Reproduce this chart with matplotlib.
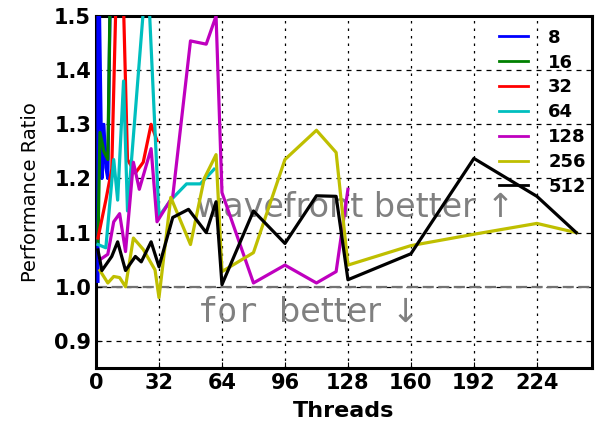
import matplotlib
matplotlib.use("Agg")
import matplotlib.pyplot as plt

# ===== data =====
sizes = ["8", "16", "32", "64", "128", "256", "512"]
colors = ["b", "g", "r", "c", "m", "y", "k"]

t_8 = [1, 1, 3, 4, 5, 6, 7, 8]
r_8 = [1.01, 1.70, 1.20, 1.30, 1.22, 1.20, 1.48, 1.70]

t_16 = [1, 2, 4, 6, 8, 10]
r_16 = [1.08, 1.285, 1.25, 1.235, 1.75, 1.60]

t_32 = [1, 5, 8, 12, 16, 20, 24, 28, 31]
r_32 = [1.09, 1.16, 1.217, 1.80, 1.235, 1.21, 1.23, 1.30, 1.27]

t_64 = [1, 5, 9, 11, 14, 16, 26, 32, 38, 46, 53, 60]
r_64 = [1.078, 1.072, 1.235, 1.16, 1.38, 1.14, 1.60, 1.13, 1.16, 1.19, 1.19, 1.217]

t_128 = [2, 6, 9, 12, 15, 19, 22, 28, 31, 39, 48, 56, 61, 64, 80, 96, 112, 122, 128]
r_128 = [1.05, 1.06, 1.12, 1.135, 1.065, 1.23, 1.18, 1.255, 1.12, 1.167,
         1.454, 1.448, 1.50, 1.174, 1.007, 1.04, 1.007, 1.028, 1.18]

t_256 = [2, 6, 9, 12, 15, 19, 24, 27, 30, 32, 38, 48, 55, 61, 64, 80, 96,
         112, 122, 128, 160, 192, 224, 244]
r_256 = [1.03, 1.007, 1.019, 1.017, 1.0, 1.09, 1.069, 1.05, 1.031, 0.98, 1.165,
         1.078, 1.20, 1.244, 1.028, 1.063, 1.235, 1.289, 1.248, 1.04, 1.076,
         1.097, 1.117, 1.10]

t_512 = [1, 3, 8, 11, 15, 20, 23, 28, 32, 39, 47, 56, 61, 64, 80, 96, 112,
         122, 128, 160, 192, 224, 244]
r_512 = [1.068, 1.03, 1.056, 1.083, 1.03, 1.056, 1.046, 1.083, 1.037, 1.128,
         1.143, 1.10, 1.157, 1.004, 1.14, 1.08, 1.168, 1.167, 1.013, 1.061,
         1.237, 1.167, 1.10]

xs = [t_8, t_16, t_32, t_64, t_128, t_256, t_512]
ys = [r_8, r_16, r_32, r_64, r_128, r_256, r_512]

x_ticks = [0, 32, 64, 96, 128, 160, 192, 224]
y_ticks = [0.9, 1.0, 1.1, 1.2, 1.3, 1.4, 1.5]

# ===== plot =====
fig = plt.figure(figsize=(6.04, 4.21), dpi=100)
ax = fig.add_axes([96 / 604, 1 - 368 / 421, (592 - 96) / 604, (368 - 16) / 421])

ax.axhline(1.0, color="0.45", lw=1.6, ls=(0, (5, 2)), zorder=1)

# annotations sit under the lines
ax.text(51, 1.146, "wavefront better \u2191", color="0.5", fontsize=24,
        va="center", ha="left", zorder=1.5)
ax.text(52, 0.952, "for", color="0.5", fontsize=24, family="DejaVu Sans Mono",
        va="center", ha="left", zorder=1.5)
ax.text(93, 0.952, "better \u2193", color="0.5", fontsize=24,
        va="center", ha="left", zorder=1.5)

for x, y, c, lab in zip(xs, ys, colors, sizes):
    ax.plot(x, y, color=c, lw=2.3, label=lab, zorder=3)

ax.set_xlim(0, 252)
ax.set_ylim(0.85, 1.5)
ax.set_xticks(x_ticks)
ax.set_yticks(y_ticks)
ax.set_yticklabels([f"{v:.1f}" for v in y_ticks])

for v in y_ticks:
    ax.axhline(v, color="k", lw=0.9, ls=(0, (4, 4)), zorder=0.5)
for v in x_ticks:
    ax.axvline(v, color="k", lw=0.9, ls=(0, (2, 4)), zorder=0.5)

ax.tick_params(direction="in", length=4, labelsize=15)
for lbl in ax.get_xticklabels() + ax.get_yticklabels():
    lbl.set_fontweight("bold")
for s in ax.spines.values():
    s.set_linewidth(2.2)

ax.set_xlabel("Threads", fontsize=16, fontweight="bold", labelpad=6)
ax.set_ylabel("Performance Ratio", fontsize=14, labelpad=10)

leg = ax.legend(loc="upper right", frameon=False, prop={"size": 13, "weight": "bold"},
                handlelength=1.6, handletextpad=1.1, labelspacing=0.38,
                borderaxespad=0.3, bbox_to_anchor=(1.013, 1.0))
for l in leg.get_lines():
    l.set_linewidth(2)

fig.savefig("out.png", dpi=100)
